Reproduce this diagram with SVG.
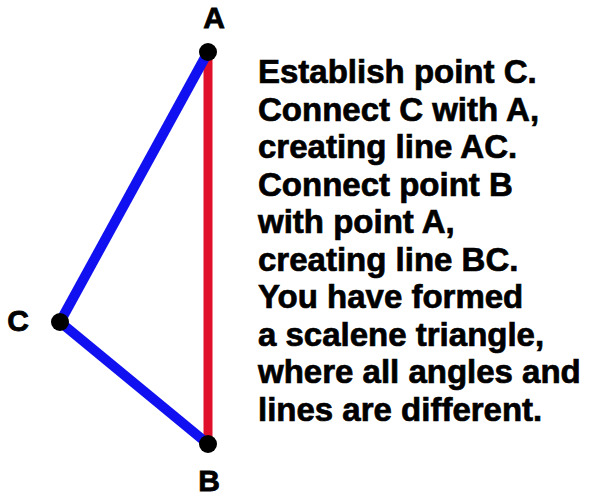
<svg xmlns="http://www.w3.org/2000/svg" width="590" height="496" viewBox="0 0 590 496">
<style>
.lbl{font-family:"Liberation Sans",Arial,sans-serif;font-weight:bold;font-size:30px;fill:#000;stroke:#000;stroke-width:0.8}
.txt{font-family:"Liberation Sans",Arial,sans-serif;font-weight:bold;font-size:33px;fill:#000;stroke:#000;stroke-width:0.7}
.dot{fill:#000}
</style>
<rect width="590" height="496" fill="#fff"/>
<g id="connectors">
<line x1="208" y1="52" x2="208" y2="444" stroke="#e0102a" stroke-width="9"/>
<line x1="208" y1="52" x2="60" y2="322" stroke="#1010f0" stroke-width="10"/>
<line x1="60" y1="322" x2="208" y2="444" stroke="#1010f0" stroke-width="10"/>
</g>
<g id="A"><circle class="dot" cx="208" cy="52" r="9"/><text class="lbl" x="214" y="28" text-anchor="middle">A</text></g>
<g id="C"><circle class="dot" cx="60" cy="322" r="9"/><text class="lbl" x="18" y="331" text-anchor="middle">C</text></g>
<g id="B"><circle class="dot" cx="208" cy="444" r="9"/><text class="lbl" x="209" y="491" text-anchor="middle">B</text></g>
<g id="description">
<text class="txt" x="258" y="83">Establish point C.</text>
<text class="txt" x="258" y="120.5">Connect C with A,</text>
<text class="txt" x="258" y="158">creating line AC.</text>
<text class="txt" x="258" y="195.5">Connect point B</text>
<text class="txt" x="258" y="233">with point A,</text>
<text class="txt" x="258" y="270.5">creating line BC.</text>
<text class="txt" x="258" y="308">You have formed</text>
<text class="txt" x="258" y="345.5">a scalene triangle,</text>
<text class="txt" x="258" y="383">where all angles and</text>
<text class="txt" x="258" y="420.5">lines are different.</text>
</g>
</svg>
